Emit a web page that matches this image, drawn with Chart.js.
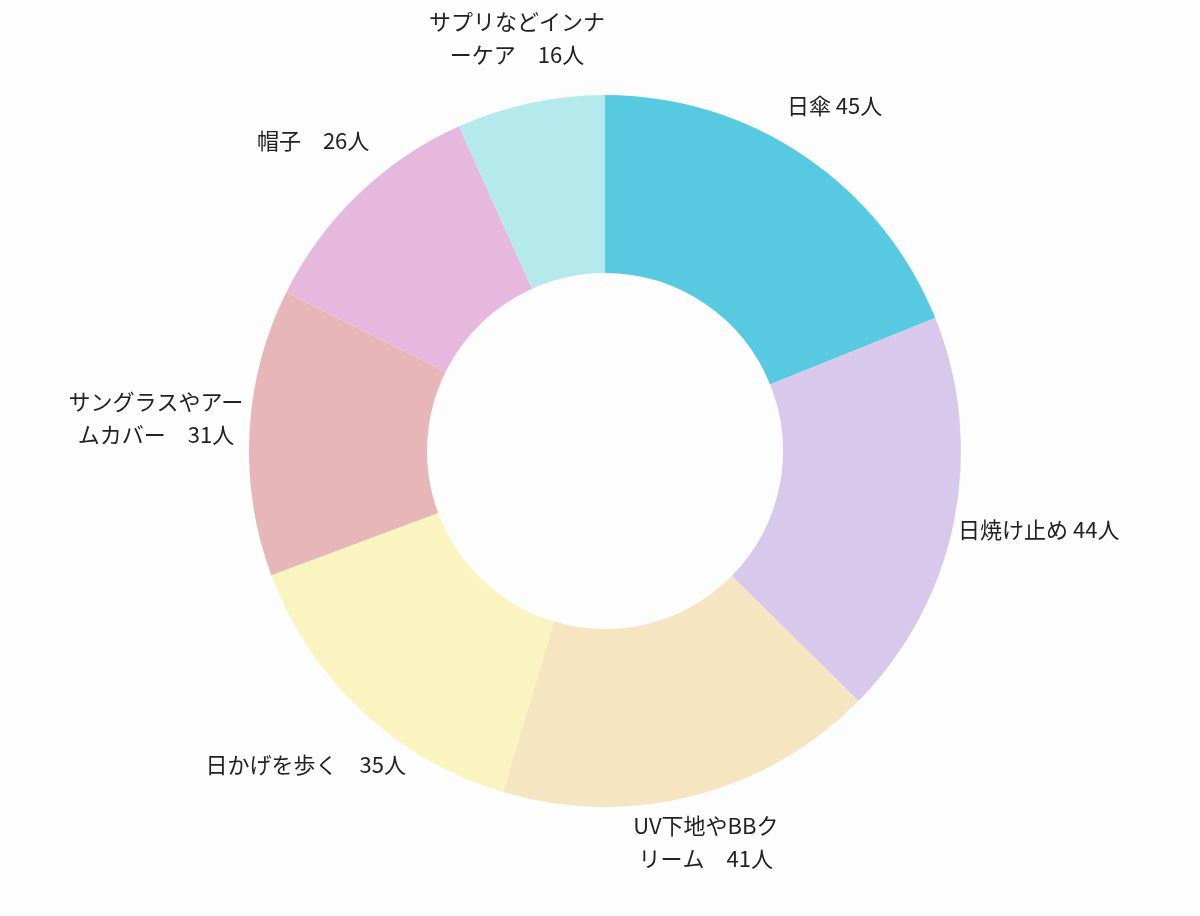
<!DOCTYPE html>
<html>
<head>
<meta charset="utf-8">
<script src="https://cdn.jsdelivr.net/npm/chart.js@4"></script>
<style>
  html, body { margin:0; padding:0; background:#fdfdfd; }
  #wrap { width:1200px; height:916px; }
</style>
</head>
<body>
<div id="wrap"><canvas id="c" width="1200" height="916"></canvas></div>
<script>
const labels = [
  ['日傘 45人'],
  ['日焼け止め 44人'],
  ['UV下地やBBク', 'リーム　41人'],
  ['日かげを歩く　35人'],
  ['サングラスやアー', 'ムカバー　31人'],
  ['帽子　26人'],
  ['サプリなどインナ', 'ーケア　16人']
];
const counts = [45, 44, 41, 35, 31, 26, 16];
const colors = ['#57cae2', '#d8c9ec', '#f5e5c0', '#faf5c0', '#e6b6b8', '#e6b8de', '#b5eaec'];

const FONT = '22px "Noto Sans CJK JP", "Noto Sans", sans-serif';
const LINE_H = 33;

// labels drawn outside each slice, box pushed off the ring along the mid angle
const outsideLabels = {
  id: 'outsideLabels',
  afterDraw(chart){
    const ctx = chart.ctx;
    const arcs = chart.getDatasetMeta(0).data;
    ctx.save();
    ctx.font = FONT;
    ctx.fillStyle = '#222';
    ctx.textAlign = 'center';
    ctx.textBaseline = 'middle';
    arcs.forEach((arc, i) => {
      const p = arc.getProps(['x','y','startAngle','endAngle','outerRadius'], true);
      const mid = (p.startAngle + p.endAngle) / 2;
      const ux = Math.cos(mid), uy = Math.sin(mid);
      const lines = labels[i];
      const w = Math.max(...lines.map(t => ctx.measureText(t).width));
      const h = lines.length * LINE_H - 10;
      const ext = Math.abs(ux) * w / 2 + Math.abs(uy) * h / 2;
      const gap = uy < -0.7 ? 18 : 5;
      const r = p.outerRadius + gap + ext;
      const cx = p.x + ux * r, cy = p.y + uy * r - 9 * Math.abs(ux);
      lines.forEach((t, k) => {
        ctx.fillText(t, cx, cy + (k - (lines.length - 1) / 2) * LINE_H);
      });
    });
    ctx.restore();
  }
};

new Chart(document.getElementById('c'), {
  type: 'doughnut',
  data: {
    labels: labels.map(l => l.join('')),
    datasets: [{
      data: counts,
      backgroundColor: colors,
      borderWidth: 0
    }]
  },
  options: {
    responsive: false,
    animation: false,
    cutout: '50%',
    layout: { padding: { top: 95, bottom: 109, left: 10, right: 0 } },
    plugins: {
      legend: { display: false },
      tooltip: { enabled: false }
    }
  },
  plugins: [outsideLabels]
});
</script>
</body>
</html>
